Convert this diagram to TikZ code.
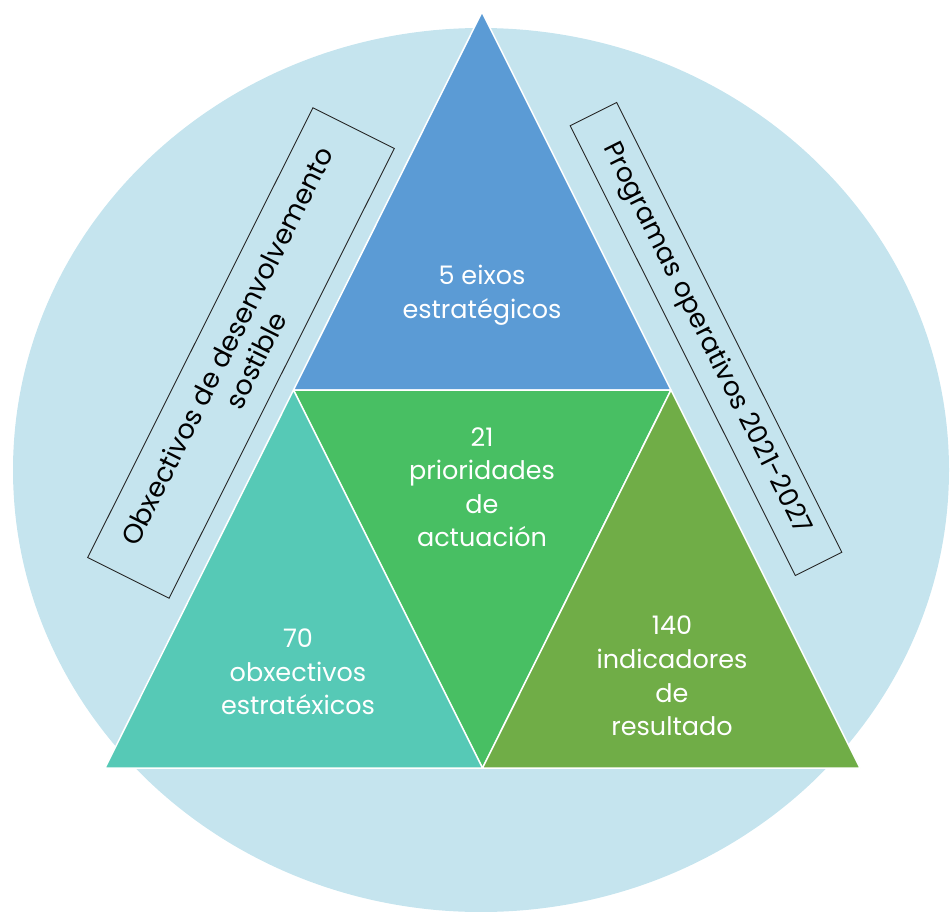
\documentclass[tikz,border=0pt]{standalone}
\usepackage{fontspec}
\setmainfont{Poppins}

\definecolor{bgblue}{HTML}{C5E4EE}
\definecolor{topblue}{HTML}{5B9BD5}
\definecolor{midgreen}{HTML}{48BF63}
\definecolor{leftteal}{HTML}{56C9B6}
\definecolor{rightgreen}{HTML}{70AD47}

\begin{document}
\begin{tikzpicture}[x=1pt, y=-1pt,
  piece/.style={draw=white, line width=1.5pt, line join=round},
  lbl/.style={text=white, align=center, font=\fontsize{25.5}{33.5}\selectfont},
  band/.style={draw=black!85, line width=0.9pt, align=center, inner sep=0pt,
    minimum width=503pt}]

\useasboundingbox (0,0) rectangle (950,912);

% Kreis im Hintergrund
\fill[bgblue] (481,470) ellipse [x radius=468, y radius=442];

% Eckpunkte
\coordinate (apex) at (482,12);
\coordinate (ml) at (293.5,390);
\coordinate (mr) at (671,390);
\coordinate (bl) at (105,768);
\coordinate (bm) at (482.5,768);
\coordinate (br) at (860,768);

% Teildreiecke
\filldraw[piece, fill=topblue] (apex) -- (ml) -- (mr) -- cycle;
\filldraw[piece, fill=midgreen] (ml) -- (mr) -- (bm) -- cycle;
\filldraw[piece, fill=leftteal] (ml) -- (bm) -- (bl) -- cycle;
\filldraw[piece, fill=rightgreen] (mr) -- (br) -- (bm) -- cycle;

% Texte in den Dreiecken
\node[lbl] (eixos) at (482,295) {5 eixos\\estratégicos};
\node[lbl] (prior) at (482,487) {21\\prioridades\\de\\actuación};
\node[lbl] (obx) at (298,672) {70\\obxectivos\\estratéxicos};
\node[lbl] (indic) at (672,676) {140\\indicadores\\de\\resultado};

% Rahmen links und rechts
\node[band, rotate=63.4, minimum height=91pt,
  font=\fontsize{27}{32}\selectfont] (ods) at (241,353)
  {Obxectivos de desenvolvemento\\sostible};
\node[band, rotate=-63.4, minimum height=52pt,
  font=\fontsize{26.5}{32}\selectfont] (prog) at (706,339)
  {Programas operativos 2021-2027};

\end{tikzpicture}
\end{document}
